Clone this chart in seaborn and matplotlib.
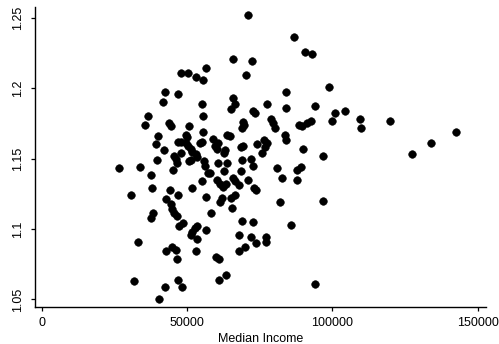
import matplotlib
matplotlib.use("Agg")
import matplotlib.pyplot as plt
import seaborn as sns
import pandas as pd

median_income = [
    70900, 86700, 90500, 92900, 65700, 72200, 70200, 56400, 47800, 50200,
    53000, 55400, 42300, 46700, 41600, 55000, 65700, 66400, 84000, 98800,
    77400, 84000, 93900, 65000, 72600, 73300, 104300, 100800, 99800, 109400,
    109800, 119800, 142500, 133900, 127400,
    78800, 79500, 80200, 69100, 69500, 68800, 83600, 84000, 88400, 89500,
    91200, 92600, 63600, 64700, 58800, 60500, 59500, 60200, 62900, 62600,
    68500, 69100, 74000, 76400, 77400, 76700, 75700, 89800, 96700,
    60500, 63600, 68800, 71900, 72600, 62600, 68500, 80900, 87700, 89100,
    82600, 87700, 57800, 60200, 61200, 62300, 63300, 65700, 66400, 67800,
    70900, 73600, 72900, 61900, 61200, 65000, 66400, 65400, 81900, 96700,
    36400, 35400, 43600, 44300, 50500, 55400, 55400, 39900, 49500, 49800,
    39200, 46700, 47800, 49500, 50200, 54300, 55000, 51200, 51600, 41900,
    47800, 45400, 53000, 53300, 46100, 46400, 39500, 50500, 51200, 55700,
    56100, 45000, 26400, 33700, 37400, 57100, 55000, 37800, 30600, 44000,
    51600, 42600, 46700, 44300, 44700, 56400,
    38100, 37400, 45400, 46400, 48500, 47100, 53300, 52600, 51600, 51200,
    56400, 53300, 33000, 42600, 44700, 46100, 46400, 53000, 31600, 46700,
    48100, 42300, 40200,
    58100, 68800, 72600, 85700, 67800, 71900, 73600, 77100, 77100, 67800,
    69800, 59800, 60900, 60900, 63300, 93900,
]

ratio = [
    1.252, 1.236, 1.226, 1.224, 1.221, 1.219, 1.209, 1.214, 1.211, 1.211,
    1.208, 1.206, 1.197, 1.196, 1.190, 1.189, 1.193, 1.189, 1.197, 1.201,
    1.189, 1.186, 1.187, 1.185, 1.184, 1.182, 1.184, 1.182, 1.177, 1.178,
    1.172, 1.177, 1.169, 1.161, 1.153,
    1.178, 1.175, 1.172, 1.176, 1.174, 1.172, 1.167, 1.163, 1.174, 1.173,
    1.175, 1.177, 1.167, 1.166, 1.164, 1.161, 1.159, 1.157, 1.156, 1.154,
    1.158, 1.159, 1.160, 1.163, 1.161, 1.158, 1.154, 1.157, 1.152,
    1.147, 1.147, 1.149, 1.150, 1.145, 1.141, 1.141, 1.143, 1.142, 1.144,
    1.136, 1.135, 1.140, 1.135, 1.132, 1.130, 1.132, 1.136, 1.134, 1.131,
    1.135, 1.128, 1.129, 1.122, 1.119, 1.122, 1.124, 1.115, 1.119, 1.120,
    1.180, 1.174, 1.175, 1.173, 1.173, 1.180, 1.169, 1.166, 1.167, 1.165,
    1.160, 1.162, 1.162, 1.161, 1.159, 1.161, 1.162, 1.157, 1.155, 1.156,
    1.154, 1.152, 1.153, 1.151, 1.150, 1.147, 1.149, 1.148, 1.149, 1.148,
    1.145, 1.142, 1.143, 1.144, 1.138, 1.140, 1.134, 1.129, 1.124, 1.128,
    1.129, 1.121, 1.124, 1.118, 1.114, 1.123,
    1.111, 1.108, 1.111, 1.109, 1.104, 1.102, 1.102, 1.101, 1.098, 1.096,
    1.099, 1.093, 1.091, 1.084, 1.087, 1.085, 1.079, 1.084, 1.063, 1.064,
    1.059, 1.059, 1.050,
    1.111, 1.106, 1.105, 1.103, 1.096, 1.094, 1.090, 1.094, 1.091, 1.084,
    1.087, 1.080, 1.079, 1.064, 1.067, 1.061,
]

x_ticks = [0, 50000, 100000, 150000]
x_tick_labels = ["0", "50000", "100000", "150000"]
y_ticks = [1.05, 1.1, 1.15, 1.2, 1.25]
y_tick_labels = ["1.05", "1.1", "1.15", "1.2", "1.25"]

df = pd.DataFrame({"Median Income": median_income, "ratio": ratio})

sns.set_theme(style="ticks")
plt.rcParams["font.family"] = ["Liberation Sans", "DejaVu Sans"]

fig = plt.figure(figsize=(4.99, 3.44), dpi=100)
ax = fig.add_axes([0.070, 0.1076, 0.904, 0.872])

sns.scatterplot(data=df, x="Median Income", y="ratio", ax=ax,
                color="black", edgecolor="black", linewidth=0.4, s=30)

ax.set_xlim(-2500, 152900)
ax.set_ylim(1.0446, 1.2576)
ax.set_xticks(x_ticks)
ax.set_xticklabels(x_tick_labels, fontsize=9)
ax.set_yticks(y_ticks)
ax.set_yticklabels(y_tick_labels, fontsize=9, rotation=90, va="center")
ax.tick_params(axis="both", direction="out", length=3, width=0.9,
               color="black", labelcolor="black")
ax.tick_params(axis="x", pad=4)
ax.tick_params(axis="y", pad=5)
ax.set_xlabel("Median Income", fontsize=9, color="black", labelpad=3)
ax.set_ylabel("")
for side in ["left", "bottom"]:
    ax.spines[side].set_color("black")
    ax.spines[side].set_linewidth(1.0)
sns.despine(ax=ax)

fig.savefig("out.png", dpi=100)
